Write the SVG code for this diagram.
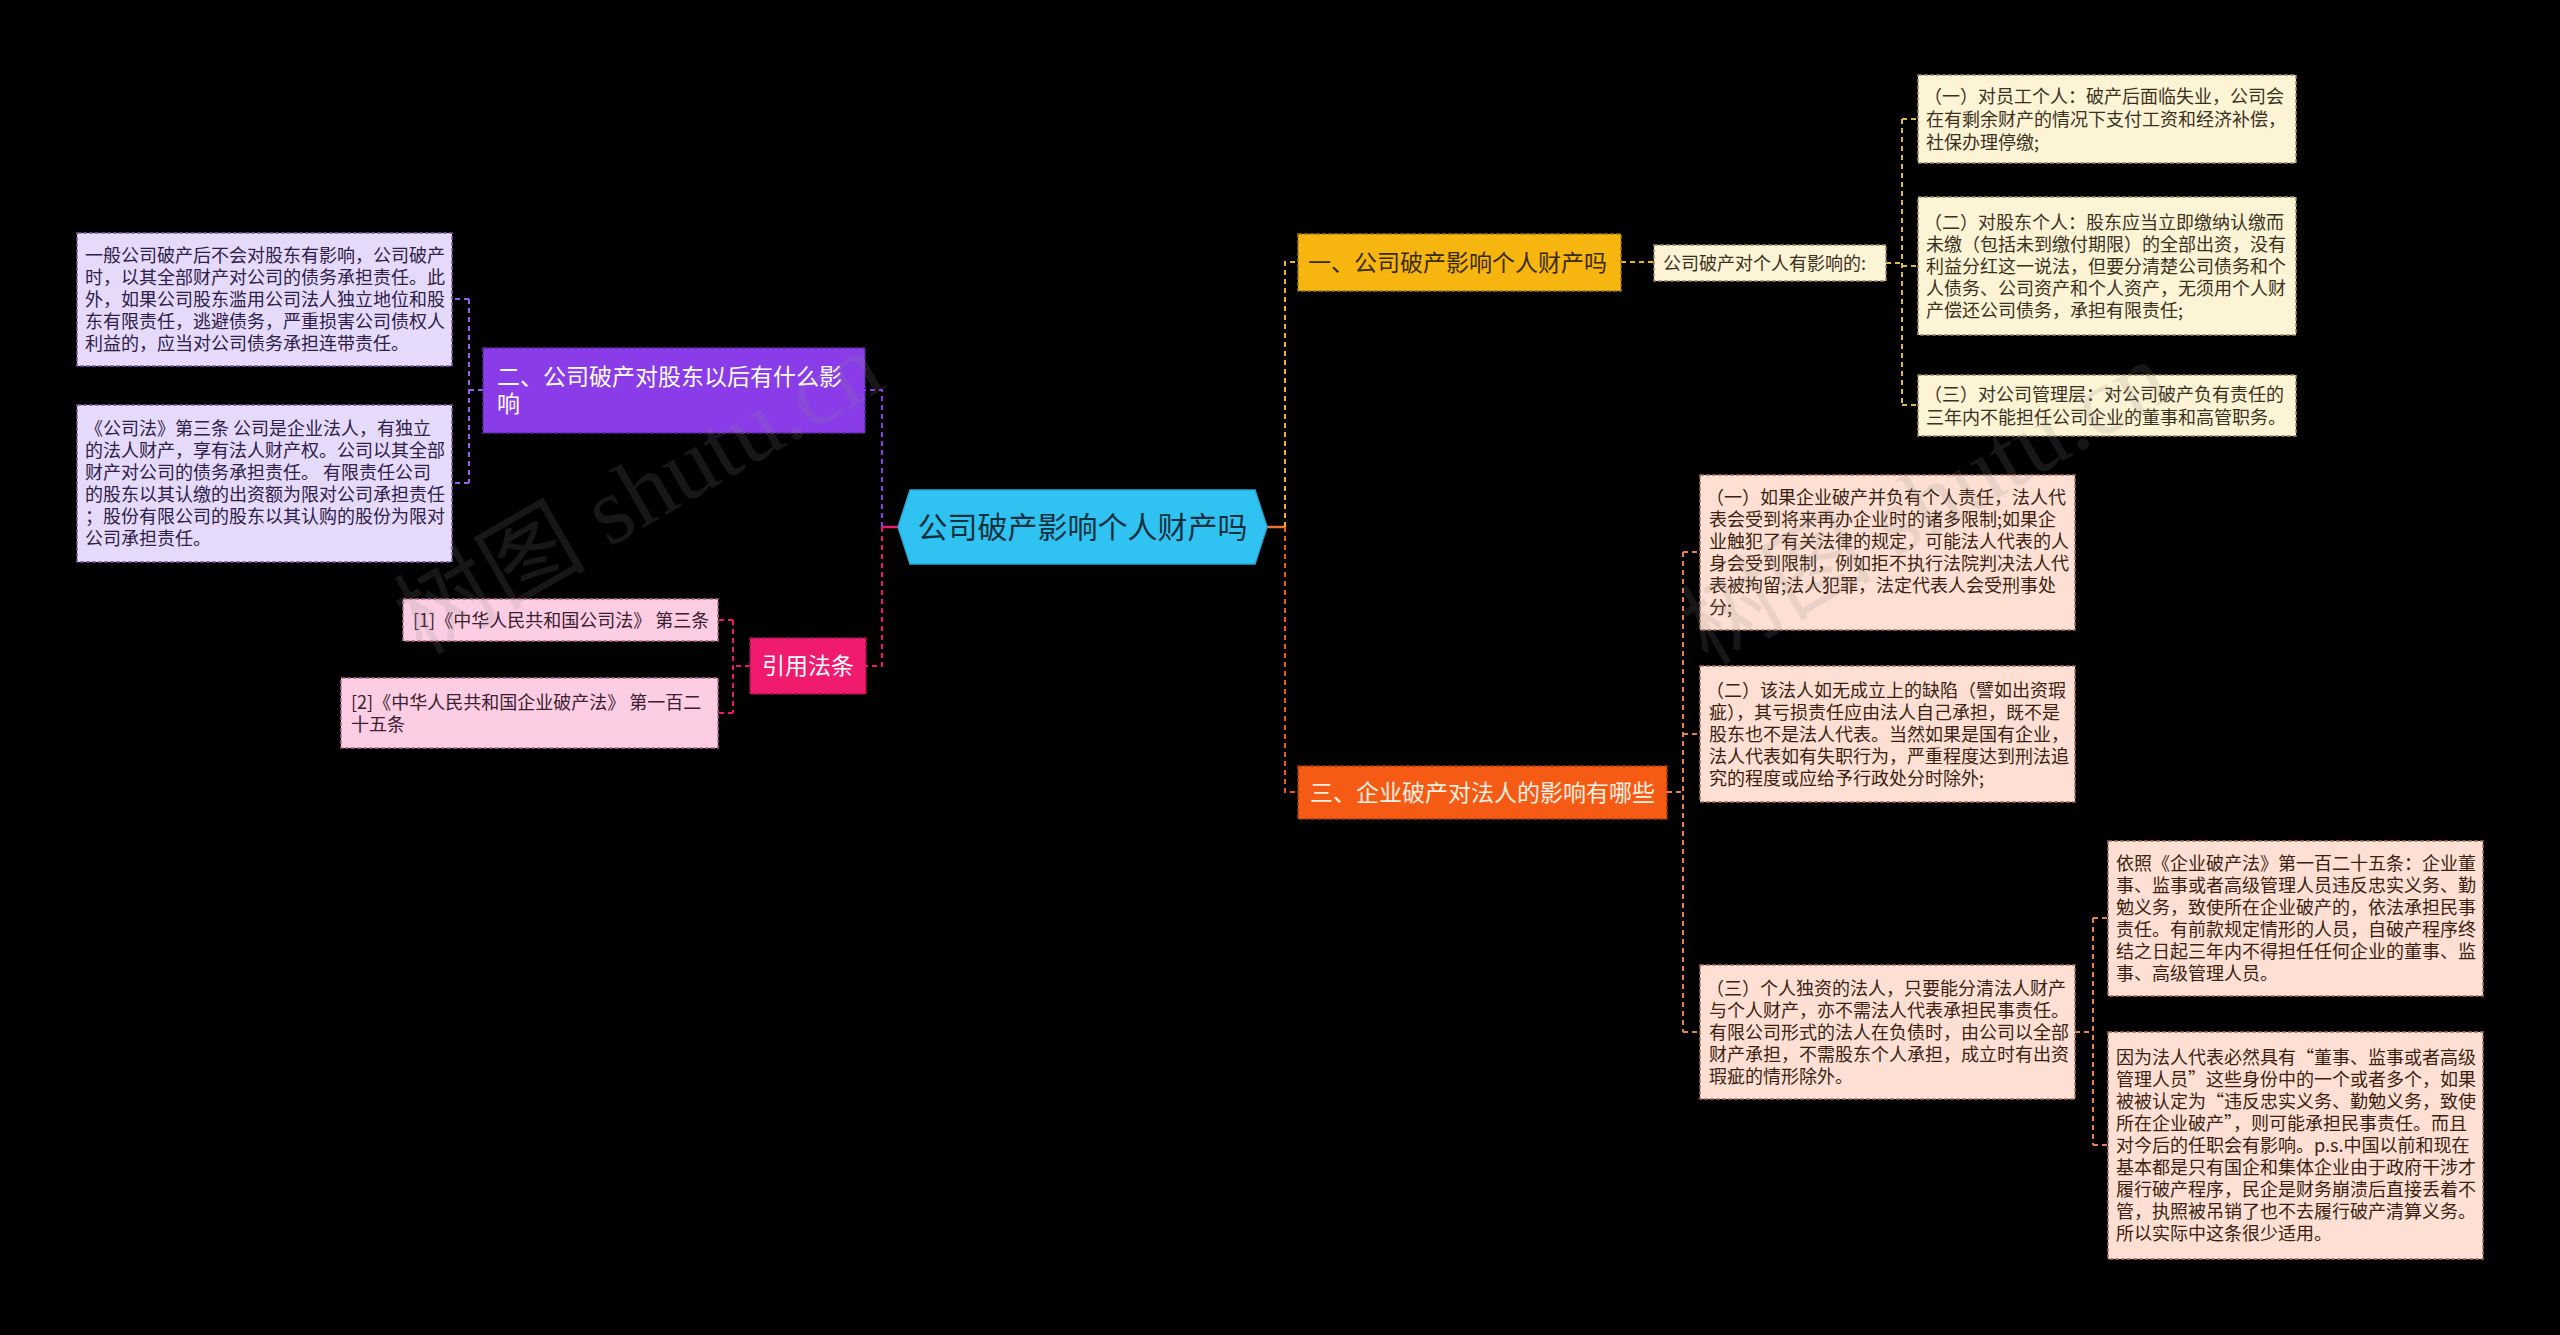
<svg xmlns="http://www.w3.org/2000/svg" width="2560" height="1335" viewBox="0 0 2560 1335">
<style>
text{font-family:"Noto Sans CJK SC","Noto Sans",sans-serif;}
.leaf{font-size:18px;}
.main{font-size:23px;}
.c{fill:none;stroke-width:2;stroke-dasharray:5 4;}
.box{stroke-width:1.5;stroke-dasharray:4 2;}
.wm{font-family:"Liberation Serif","Noto Sans CJK SC",serif;font-size:96px;fill:#8a8a8a;opacity:0.17;}
</style>
<rect width="2560" height="1335" fill="#000"/>
<g id="connectors">
  <path d="M898,527 H882" stroke="#e8196e" stroke-width="2.5" fill="none"/>
  <path class="c" d="M882,527 V390 H865" stroke="#8b3ae8"/>
  <path class="c" d="M882,527 V666 H866" stroke="#e8196e"/>
  <path class="c" d="M483,390 H469 M469,299 V483 M469,299 H452 M469,483 H452" stroke="#9b5cf0"/>
  <path class="c" d="M750,666 H733 M733,620 V713 M733,620 H718 M733,713 H718" stroke="#e8196e"/>
  <path d="M1267,527 H1285" stroke="#f0703a" stroke-width="2.5" fill="none"/>
  <path class="c" d="M1285,527 V262 H1298" stroke="#f0b418"/>
  <path class="c" d="M1285,527 V792 H1298" stroke="#f05a14"/>
  <path class="c" d="M1621,262 H1654" stroke="#f0b418"/>
  <path class="c" d="M1886,263 H1902 M1902,119 V405 M1902,119 H1918 M1902,266 H1918 M1902,405 H1918" stroke="#e0b848"/>
  <path class="c" d="M1667,792 H1683 M1683,552 V1032 M1683,552 H1700 M1683,734 H1700 M1683,1032 H1700" stroke="#e8804a"/>
  <path class="c" d="M2075,1032 H2093 M2093,918 V1145 M2093,918 H2108 M2093,1145 H2108" stroke="#e8804a"/>
</g>
<g id="center">
  <polygon points="898,527 910,490 1255,490 1267,527 1255,564 910,564" fill="#30c3f2" stroke="#28a8d4" stroke-width="1.5"/>
  <text x="1082.5" y="538" text-anchor="middle" font-size="30" fill="#12313e">公司破产影响个人财产吗</text>
</g>
<g id="n1">
  <rect class="box" x="1298" y="234" width="323" height="57" fill="#f6b60f" stroke="#a07a10"/>
  <text class="main" x="1308" y="271" fill="#3a2a05">一、公司破产影响个人财产吗</text>
</g>
<g id="n1a">
  <rect class="box" x="1654" y="245" width="232" height="36" fill="#fdf3d5" stroke="#9a8a60"/>
  <text class="leaf" x="1663" y="269.5" fill="#3a321e">公司破产对个人有影响的:</text>
</g>
<g id="n1a1">
  <rect class="box" x="1918" y="75" width="378" height="88" fill="#fdf3d5" stroke="#9a8a60"/>
  <text class="leaf" fill="#3a321e"><tspan x="1924" y="103">（一）对员工个人：破产后面临失业，公司会</tspan><tspan x="1926" y="126">在有剩余财产的情况下支付工资和经济补偿，</tspan><tspan x="1926" y="149">社保办理停缴;</tspan></text>
</g>
<g id="n1a2">
  <rect class="box" x="1918" y="197" width="378" height="138" fill="#fdf3d5" stroke="#9a8a60"/>
  <text class="leaf" fill="#3a321e"><tspan x="1924" y="228.5">（二）对股东个人：股东应当立即缴纳认缴而</tspan><tspan x="1926" y="250.5">未缴（包括未到缴付期限）的全部出资，没有</tspan><tspan x="1926" y="272.5">利益分红这一说法，但要分清楚公司债务和个</tspan><tspan x="1926" y="294.5">人债务、公司资产和个人资产，无须用个人财</tspan><tspan x="1926" y="316.5">产偿还公司债务，承担有限责任;</tspan></text>
</g>
<g id="n1a3">
  <rect class="box" x="1918" y="375" width="378" height="61" fill="#fdf3d5" stroke="#9a8a60"/>
  <text class="leaf" fill="#3a321e"><tspan x="1924" y="401">（三）对公司管理层：对公司破产负有责任的</tspan><tspan x="1926" y="424">三年内不能担任公司企业的董事和高管职务。</tspan></text>
</g>
<g id="n2">
  <rect class="box" x="483" y="348" width="382" height="85" fill="#8a3ce8" stroke="#5a2aa0"/>
  <text class="main" fill="#ffffff"><tspan x="497" y="385">二、公司破产对股东以后有什么影</tspan><tspan x="497" y="412">响</tspan></text>
</g>
<g id="n2a">
  <rect class="box" x="77" y="233" width="375" height="133" fill="#e5dafa" stroke="#7a5aa8"/>
  <text class="leaf" fill="#2e2048"><tspan x="85" y="262">一般公司破产后不会对股东有影响，公司破产</tspan><tspan x="85" y="284">时，以其全部财产对公司的债务承担责任。此</tspan><tspan x="85" y="306">外，如果公司股东滥用公司法人独立地位和股</tspan><tspan x="85" y="328">东有限责任，逃避债务，严重损害公司债权人</tspan><tspan x="85" y="350">利益的，应当对公司债务承担连带责任。</tspan></text>
</g>
<g id="n2b">
  <rect class="box" x="77" y="405" width="375" height="157" fill="#e5dafa" stroke="#7a5aa8"/>
  <text class="leaf" fill="#2e2048"><tspan x="85" y="435">《公司法》第三条 公司是企业法人，有独立</tspan><tspan x="85" y="457">的法人财产，享有法人财产权。公司以其全部</tspan><tspan x="85" y="479">财产对公司的债务承担责任。 有限责任公司</tspan><tspan x="85" y="501">的股东以其认缴的出资额为限对公司承担责任</tspan><tspan x="85" y="523">；股份有限公司的股东以其认购的股份为限对</tspan><tspan x="85" y="545">公司承担责任。</tspan></text>
</g>
<g id="n3">
  <rect class="box" x="750" y="638" width="116" height="56" fill="#f01a6e" stroke="#a01048"/>
  <text class="main" x="808" y="674" text-anchor="middle" fill="#ffffff">引用法条</text>
</g>
<g id="n3a">
  <rect class="box" x="403" y="599" width="315" height="42" fill="#fccde3" stroke="#b06a8a"/>
  <text class="leaf" x="413" y="626.5" fill="#3a2030">[1]《中华人民共和国公司法》 第三条</text>
</g>
<g id="n3b">
  <rect class="box" x="341" y="678" width="377" height="70" fill="#fccde3" stroke="#b06a8a"/>
  <text class="leaf" fill="#3a2030"><tspan x="351" y="708.5">[2]《中华人民共和国企业破产法》 第一百二</tspan><tspan x="351" y="730.5">十五条</tspan></text>
</g>
<g id="n4">
  <rect class="box" x="1298" y="766" width="369" height="53" fill="#f55b14" stroke="#a03a08"/>
  <text class="main" x="1310" y="801" fill="#fff0e2">三、企业破产对法人的影响有哪些</text>
</g>
<g id="n4a">
  <rect class="box" x="1700" y="475" width="375" height="155" fill="#fde0d3" stroke="#a87060"/>
  <text class="leaf" fill="#3a1f12"><tspan x="1706" y="504">（一）如果企业破产并负有个人责任，法人代</tspan><tspan x="1709" y="526">表会受到将来再办企业时的诸多限制;如果企</tspan><tspan x="1709" y="548">业触犯了有关法律的规定，可能法人代表的人</tspan><tspan x="1709" y="570">身会受到限制，例如拒不执行法院判决法人代</tspan><tspan x="1709" y="592">表被拘留;法人犯罪，法定代表人会受刑事处</tspan><tspan x="1709" y="614">分;</tspan></text>
</g>
<g id="n4b">
  <rect class="box" x="1700" y="666" width="375" height="136" fill="#fde0d3" stroke="#a87060"/>
  <text class="leaf" fill="#3a1f12"><tspan x="1706" y="696.5">（二）该法人如无成立上的缺陷（譬如出资瑕</tspan><tspan x="1709" y="718.5">疵），其亏损责任应由法人自己承担，既不是</tspan><tspan x="1709" y="740.5">股东也不是法人代表。当然如果是国有企业，</tspan><tspan x="1709" y="762.5">法人代表如有失职行为，严重程度达到刑法追</tspan><tspan x="1709" y="784.5">究的程度或应给予行政处分时除外;</tspan></text>
</g>
<g id="n4c">
  <rect class="box" x="1700" y="965" width="375" height="134" fill="#fde0d3" stroke="#a87060"/>
  <text class="leaf" fill="#3a1f12"><tspan x="1706" y="994.5">（三）个人独资的法人，只要能分清法人财产</tspan><tspan x="1709" y="1016.5">与个人财产，亦不需法人代表承担民事责任。</tspan><tspan x="1709" y="1038.5">有限公司形式的法人在负债时，由公司以全部</tspan><tspan x="1709" y="1060.5">财产承担，不需股东个人承担，成立时有出资</tspan><tspan x="1709" y="1082.5">瑕疵的情形除外。</tspan></text>
</g>
<g id="n4c1">
  <rect class="box" x="2108" y="841" width="375" height="155" fill="#fde0d3" stroke="#a87060"/>
  <text class="leaf" fill="#3a1f12"><tspan x="2116" y="870">依照《企业破产法》第一百二十五条：企业董</tspan><tspan x="2116" y="892">事、监事或者高级管理人员违反忠实义务、勤</tspan><tspan x="2116" y="914">勉义务，致使所在企业破产的，依法承担民事</tspan><tspan x="2116" y="936">责任。有前款规定情形的人员，自破产程序终</tspan><tspan x="2116" y="958">结之日起三年内不得担任任何企业的董事、监</tspan><tspan x="2116" y="980">事、高级管理人员。</tspan></text>
</g>
<g id="n4c2">
  <rect class="box" x="2108" y="1032" width="375" height="227" fill="#fde0d3" stroke="#a87060"/>
  <text class="leaf" fill="#3a1f12"><tspan x="2116" y="1064">因为法人代表必然具有“董事、监事或者高级</tspan><tspan x="2116" y="1086">管理人员”这些身份中的一个或者多个，如果</tspan><tspan x="2116" y="1108">被被认定为“违反忠实义务、勤勉义务，致使</tspan><tspan x="2116" y="1130">所在企业破产”，则可能承担民事责任。而且</tspan><tspan x="2116" y="1152">对今后的任职会有影响。p.s.中国以前和现在</tspan><tspan x="2116" y="1174">基本都是只有国企和集体企业由于政府干涉才</tspan><tspan x="2116" y="1196">履行破产程序，民企是财务崩溃后直接丢着不</tspan><tspan x="2116" y="1218">管，执照被吊销了也不去履行破产清算义务。</tspan><tspan x="2116" y="1240">所以实际中这条很少适用。</tspan></text>
</g>
<g id="watermarks">
  <text class="wm" x="640" y="525" text-anchor="middle" transform="rotate(-30 640 495)">树图 shutu.cn</text>
  <text class="wm" x="1926" y="535" text-anchor="middle" transform="rotate(-30 1926 505)">树图 shutu.cn</text>
</g>
</svg>
